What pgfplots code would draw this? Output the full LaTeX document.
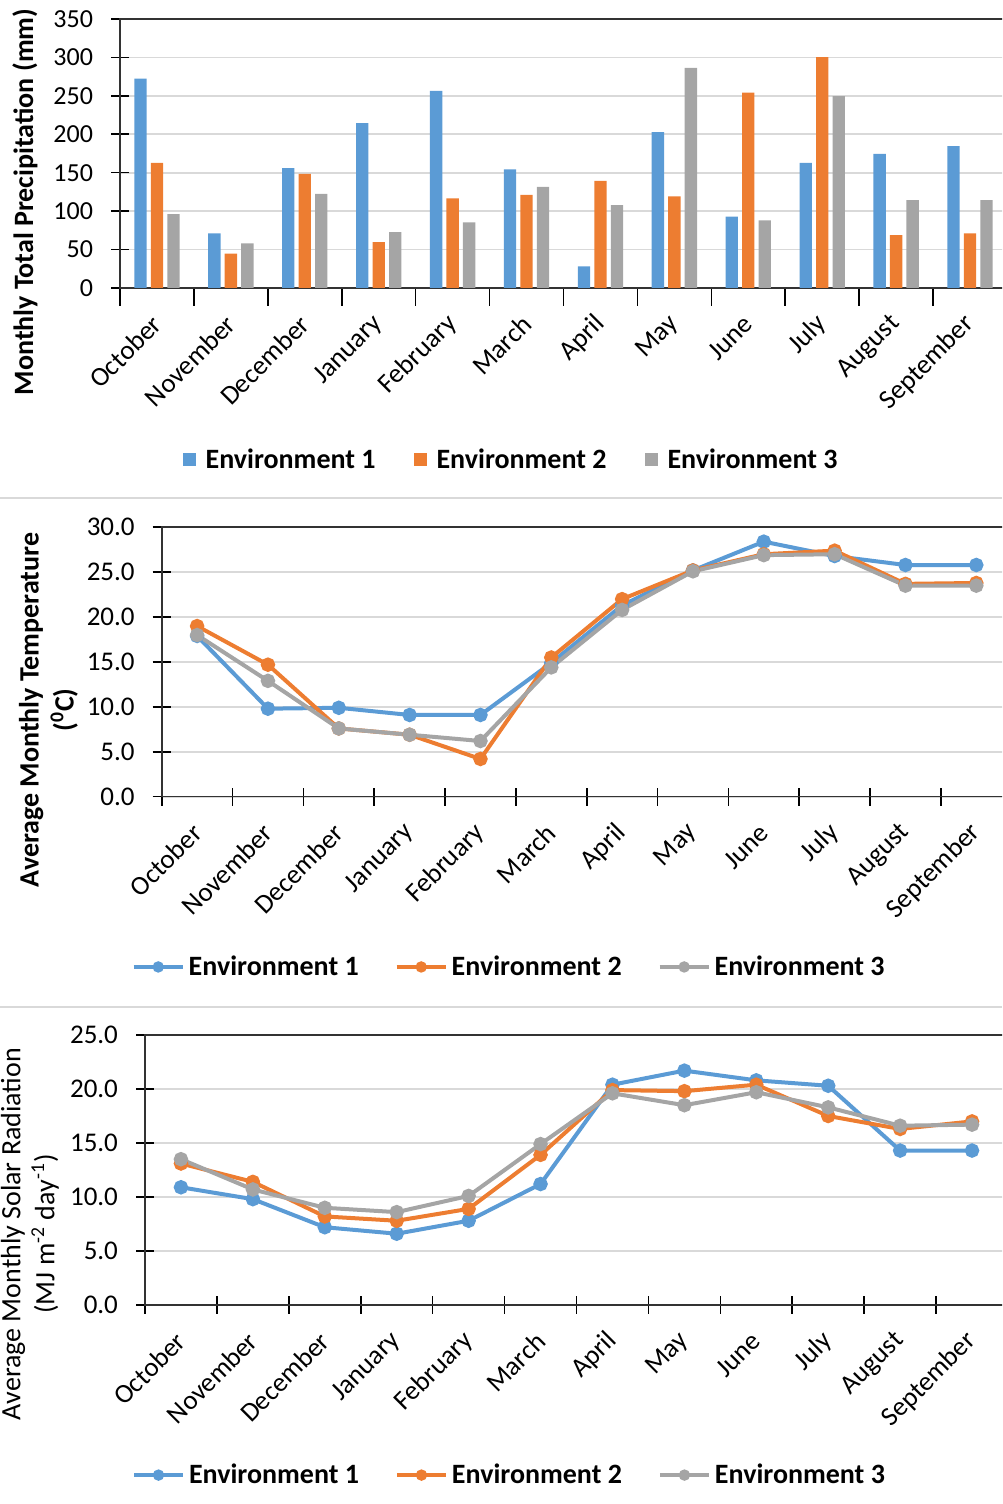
\documentclass[border=0pt]{standalone}
\usepackage{fontspec}
\setmainfont{Carlito}
\usepackage{pgfplots}
\usepackage{pgfplotstable}
\pgfplotsset{compat=1.18}

\definecolor{envA}{HTML}{5B9BD5}
\definecolor{envB}{HTML}{ED7D31}
\definecolor{envC}{HTML}{A5A5A5}
\definecolor{gridc}{HTML}{D9D9D9}

% monthly totals / means, Oct..Sep (index 0..11)
\pgfplotstableread{
m  e1    e2    e3
0  272.5 162.9 96.2
1  71.0  44.6  58.0
2  156.0 148.6 122.6
3  214.5 59.8  72.8
4  256.5 116.6 85.4
5  154.2 121.3 131.7
6  28.2  139.5 107.9
7  202.8 119.2 286.4
8  92.7  254.3 88.0
9  162.9 300.3 249.6
10 174.6 68.9  114.4
11 184.6 71.0  114.4
}\precip

\pgfplotstableread{
m  e1   e2   e3
0  17.9 19.0 18.0
1  9.8  14.7 12.9
2  9.9  7.6  7.6
3  9.1  6.9  6.9
4  9.1  4.2  6.2
5  14.9 15.5 14.4
6  21.3 22.0 20.8
7  25.2 25.2 25.1
8  28.4 27.0 26.9
9  26.8 27.4 27.0
10 25.8 23.7 23.5
11 25.8 23.8 23.5
}\temper

\pgfplotstableread{
m  e1   e2   e3
0  10.9 13.1 13.5
1  9.8  11.4 10.7
2  7.2  8.2  9.0
3  6.6  7.8  8.6
4  7.8  8.9  10.1
5  11.2 13.9 14.9
6  20.4 19.9 19.6
7  21.7 19.8 18.5
8  20.8 20.4 19.7
9  20.3 17.5 18.3
10 14.3 16.3 16.6
11 14.3 17.0 16.7
}\solar

\pgfplotsset{
  monthaxis/.style={
    scale only axis,
    anchor=south west,
    xmin=-0.5, xmax=11.5,
    xtick={-0.5,0.5,...,11.5},
    xticklabels={},
    extra x ticks={0,...,11},
    extra x tick labels={October,November,December,January,February,March,April,May,June,July,August,September},
    extra x tick style={grid=none, major tick length=0pt, tick style={draw=none}},
    major tick length=9pt,
    tick align=center,
    tick pos=left,
    tick style={black, line width=0.8pt},
    ymajorgrids,
    grid style={gridc, line width=0.9pt},
    axis line style={black!80, line width=0.8pt},
    xticklabel style={anchor=east, xshift=2.5pt, yshift=-13.5pt, rotate=45,
      font=\fontsize{13.5}{15}\selectfont},
    yticklabel style={xshift=-5.5pt},
    /pgf/number format/assume math mode=true,
    legend columns=3,
    legend cell align=left,
    legend style={draw=none, fill=none, anchor=center,
      font=\bfseries\fontsize{14}{17}\selectfont},
  },
  onedec/.style={
    yticklabel style={font=\fontsize{13.5}{15}\selectfont,
      /pgf/number format/.cd, fixed, fixed zerofill, precision=1}},
  envline/.style={line width=2pt, mark=*, mark size=2.6pt,
    color=#1, mark options={solid, fill=#1, draw=#1}},
  lineleg/.style={
    legend style={/tikz/every even column/.append style={column sep=16pt}},
    legend image code/.code={
      \draw[mark repeat=2, mark phase=2, mark size=1.8pt]
        plot coordinates {(0pt,0pt) (12.25pt,0pt) (24.5pt,0pt)};}},
}

\begin{document}
\begin{tikzpicture}
\useasboundingbox (0,0) rectangle (501pt,752pt);
\clip (0,0) rectangle (501pt,752pt);

% separators between the three panels
\draw[gridc, line width=1pt] (0,503pt) -- (501pt,503pt);
\draw[gridc, line width=1pt] (0,248.65pt) -- (501pt,248.65pt);

% ---------- precipitation ----------
\begin{axis}[monthaxis,
  at={(60pt,608pt)}, width=443.5pt, height=134.5pt,
  ymin=0, ymax=350, ytick={0,50,...,350},
  yticklabel style={font=\fontsize{13}{15}\selectfont},
  ybar=2.1pt, bar width=6.15pt,
  legend style={at={(axis description cs:0.442,-0.639)},
    /tikz/every even column/.append style={column sep=17pt}},
  legend image code/.code={\path[fill, draw=none] (0pt,-3.25pt) rectangle (6.5pt,3.25pt);
    \path (9.5pt,0pt);},
]
\addplot[fill=envA, draw=none] table[x=m, y=e1] {\precip};
\addplot[fill=envB, draw=none] table[x=m, y=e2] {\precip};
\addplot[fill=envC, draw=none] table[x=m, y=e3] {\precip};
\legend{Environment 1, Environment 2, Environment 3}
\end{axis}

% ---------- temperature ----------
\begin{axis}[monthaxis, onedec,
  at={(80.85pt,353.65pt)}, width=425pt, height=134.7pt,
  ymin=0, ymax=30, ytick={0,5,...,30},
  legend style={at={(axis description cs:0.410,-0.632)}},
  lineleg,
]
\addplot[envline=envA] table[x=m, y=e1] {\temper};
\addplot[envline=envB] table[x=m, y=e2] {\temper};
\addplot[envline=envC] table[x=m, y=e3] {\temper};
\legend{Environment 1, Environment 2, Environment 3}
\end{axis}

% ---------- solar radiation ----------
\begin{axis}[monthaxis, onedec,
  at={(72.5pt,99.5pt)}, width=431.5pt, height=135pt,
  ymin=0, ymax=25, ytick={0,5,...,25},
  legend style={at={(axis description cs:0.4235,-0.630)}},
  lineleg,
]
\addplot[envline=envA] table[x=m, y=e1] {\solar};
\addplot[envline=envB] table[x=m, y=e2] {\solar};
\addplot[envline=envC] table[x=m, y=e3] {\solar};
\legend{Environment 1, Environment 2, Environment 3}
\end{axis}

% axis titles
\node[rotate=90, font=\bfseries\fontsize{14}{17}\selectfont] at (12.5pt,651pt)
  {Monthly Total Precipitation (mm)};
\node[rotate=90, align=center, font=\bfseries\fontsize{14}{17.5}\selectfont] at (24.25pt,397pt)
  {Average Monthly Temperature\\(\textsuperscript{0}C)};
\node[rotate=90, align=center, font=\fontsize{14}{17}\selectfont] at (15pt,135pt)
  {Average Monthly Solar Radiation\\(MJ m\textsuperscript{-2} day\textsuperscript{-1})};
\end{tikzpicture}
\end{document}
